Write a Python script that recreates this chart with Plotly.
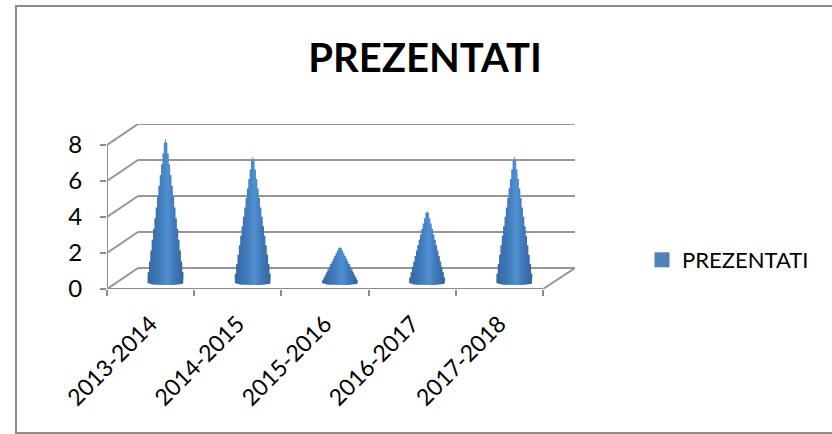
import numpy as np
import plotly.graph_objects as go

categories = ["2013-2014", "2014-2015", "2015-2016", "2016-2017", "2017-2018"]
values = [8, 7, 2, 4, 7]
y_ticks = [0, 2, 4, 6, 8]
series_name = "PREZENTATI"

W, H = 832, 434
LEFT, RIGHT, BOTTOM, TOP = 107, 575, 289, 124
CAT_PX = 87.2
UNIT_PX = 18.0
DX = 31 / CAT_PX      # depth offset of the back wall
DY = 21 / UNIT_PX
GRID = "#969696"
TICK = "#8c8c8c"

x_min = -0.5
x_max = x_min + (RIGHT - LEFT) / CAT_PX
y_max = (BOTTOM - TOP) / UNIT_PX

fig = go.Figure()

scale = [[0, "#35689f"], [0.3, "#3f78b8"], [0.55, "#4f90d2"], [0.75, "#3f78b8"], [1, "#33649a"]]
half = 18 / CAT_PX
base_y = 6 / UNIT_PX
for i, v in enumerate(values):
    cx = i + 15 / CAT_PX
    step = 0.075 * v
    levels = np.arange(0, v, step)
    xl, yl = [], []
    for lv in levels:
        w = half * (1 - lv / v)
        top = min(lv + step, v)
        xl += [cx - w, cx - w]
        yl += [base_y + lv, base_y + top]
    xl.append(cx)
    yl.append(base_y + v)
    xr = [2 * cx - a for a in reversed(xl[:-1])]
    yr = list(reversed(yl[:-1]))
    t = np.linspace(0, np.pi, 15)
    arc_x = cx + half * np.cos(t)
    arc_y = base_y - 0.12 * np.sin(t)
    fig.add_trace(go.Scatter(
        x=xl + xr + list(arc_x), y=yl + yr + list(arc_y), mode="lines",
        fill="toself", line=dict(width=0, color="#3f76b4"),
        fillgradient=dict(type="horizontal", colorscale=scale),
        showlegend=False, hoverinfo="skip", xaxis="x", yaxis="y"))

fig.add_trace(go.Scatter(
    x=[None], y=[None], mode="markers", name=series_name,
    marker=dict(symbol="square", size=15, color="#4f81bd")))

# invisible trace carrying the tick marks on the category boundaries
fig.add_trace(go.Scatter(x=[x_min, x_max], y=[0, 0], mode="lines",
                         line=dict(width=0), showlegend=False, hoverinfo="skip",
                         xaxis="x2", yaxis="y"))

shapes = []
def seg(x0, y0, x1, y1, color=GRID, width=2):
    shapes.append(dict(type="line", x0=x0, y0=y0, x1=x1, y1=y1, xref="x", yref="y",
                       layer="below", line=dict(color=color, width=width)))

for v in y_ticks:
    seg(x_min + DX, v + DY, x_max, v + DY)
    seg(x_min, v, x_min + DX, v + DY)
seg(x_min, 0, x_min, y_ticks[-1], TICK)
seg(x_min, 0, 4.5, 0, TICK)
seg(4.5, 0, x_max, DY)
# chart border (right side runs off the page, as in the reference)
shapes.append(dict(type="rect", xref="paper", yref="paper",
                   x0=(16 - LEFT) / (RIGHT - LEFT), x1=(840 - LEFT) / (RIGHT - LEFT),
                   y0=(BOTTOM - 433) / (BOTTOM - TOP), y1=(BOTTOM - 6) / (BOTTOM - TOP),
                   line=dict(color="#8c8c8c", width=2), layer="below"))

axis_common = dict(showgrid=False, zeroline=False, showline=False)
fig.update_layout(
    width=W, height=H, autosize=False,
    margin=dict(l=LEFT, r=W - RIGHT, t=TOP, b=H - BOTTOM),
    paper_bgcolor="white", plot_bgcolor="rgba(0,0,0,0)",
    font=dict(family="Lato, Carlito, sans-serif", color="black"),
    title=dict(text=f"<b>{series_name}</b>", x=425 / W, xanchor="center", y=1 - 58 / H, yanchor="middle",
               font=dict(size=40, color="black")),
    xaxis=dict(range=[x_min, x_max], tickmode="array",
               tickvals=list(range(len(categories))), ticktext=categories, tickangle=-45,
               ticks="", tickfont=dict(size=23), ticklabelstandoff=16, anchor="y", **axis_common),
    xaxis2=dict(range=[x_min, x_max], tickmode="array",
                tickvals=[k - 0.5 for k in range(len(categories) + 1)], ticktext=[""] * (len(categories) + 1),
                ticks="outside", ticklen=6, tickwidth=1.5, tickcolor=TICK,
                overlaying="x", anchor="y", **axis_common),
    yaxis=dict(range=[0, y_max], tickmode="array",
               tickvals=y_ticks, ticks="outside", ticklen=6, tickwidth=1.5, tickcolor=TICK,
               tickfont=dict(size=24), ticklabelstandoff=13, **axis_common),
    legend=dict(x=(642 - LEFT) / (RIGHT - LEFT), y=(BOTTOM - 260) / (BOTTOM - TOP), xanchor="left", yanchor="middle",
                font=dict(size=22), bgcolor="rgba(0,0,0,0)", itemsizing="trace"),
    shapes=shapes,
)
fig.write_html("out.html", config=dict(displayModeBar=False),
               post_script="document.body.style.margin='0';document.documentElement.style.overflow='hidden';")
